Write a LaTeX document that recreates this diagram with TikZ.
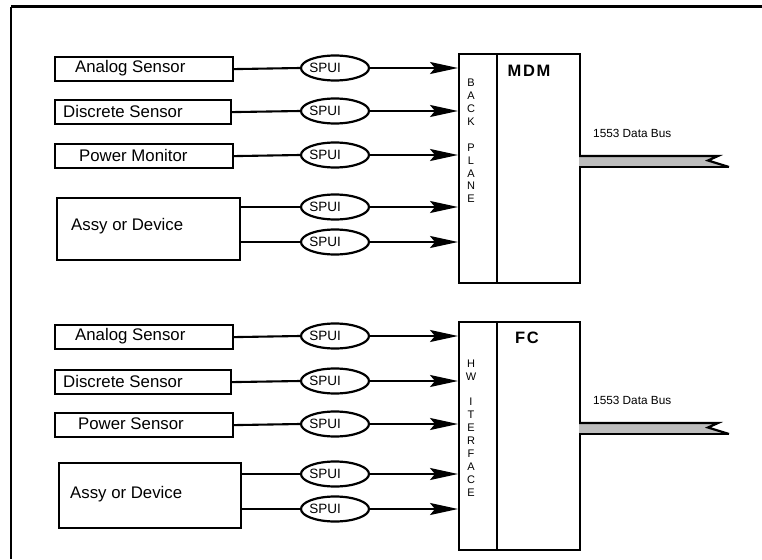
\documentclass[tikz,border=0pt]{standalone}
\usepackage{fontspec}
\setmainfont{Liberation Sans}
\usetikzlibrary{shapes.geometric,arrows.meta}
\tikzset{
  box/.style={draw, line width=2.2pt, inner sep=0pt, anchor=north west},
  lbl/.style={inner sep=0pt, anchor=west, font=\fontsize{16.8pt}{18pt}\selectfont},
  spui/.style={draw, ellipse, line width=2.2pt, inner sep=0pt, minimum width=68pt, minimum height=25pt},
  spuitxt/.style={inner sep=0pt, font=\fontsize{13.5pt}{15pt}\selectfont},
  conn/.style={line width=2.1pt},
  arr/.style={line width=2.1pt, -{Stealth[length=28pt, width=12pt, inset=5pt]}},
  vert/.style={inner sep=0pt, align=center, font=\fontsize{11pt}{12.9pt}\selectfont},
  title/.style={inner sep=0pt, font=\fontsize{16.5pt}{18pt}\selectfont\bfseries\addfontfeatures{LetterSpace=10}},
  bustxt/.style={inner sep=0pt, anchor=west, font=\fontsize{11.8pt}{13pt}\selectfont},
}
\begin{document}
\begin{tikzpicture}[x=1pt, y=-1pt]
\useasboundingbox (0,0) rectangle (762,559);
% frame
\coordinate (fTL) at (11,7);
\coordinate (fTR) at (762,7);
\coordinate (fBL) at (11,559);
\draw[line width=3pt] (fTR) -- (fTL);
\draw[line width=2.2pt] (fTL) -- (fBL);

% ===== top group =====
\node[box, minimum width=83pt, minimum height=229pt] (mdm) at (496,53) {};
\node[box, minimum width=38pt, minimum height=229pt] (bp1) at (458,53) {};
\node[title] (tmdm) at (529,71) {MDM};
\node[vert] (vbp) at (471,141) {B\\A\\C\\K\\[12.9pt]P\\L\\A\\N\\E};

\node[box, minimum width=178pt, minimum height=24pt] (a1) at (54,56) {};
\node[lbl] (ta1) at (75,68) {Analog Sensor};
\node[box, minimum width=176pt, minimum height=24pt] (d1) at (54,99) {};
\node[lbl] (td1) at (63,111) {Discrete Sensor};
\node[box, minimum width=178pt, minimum height=24pt] (p1) at (54,143) {};
\node[lbl] (tp1) at (79,155) {Power Monitor};
\node[box, minimum width=183pt, minimum height=62pt] (s1) at (56,197) {};
\node[lbl] (ts1) at (71,226) {Assy or Device};

\node[spui] (e11) at (335,68) {};
\node[spui] (e12) at (335,111) {};
\node[spui] (e13) at (335,155) {};
\node[spui] (e14) at (335,207) {};
\node[spui] (e15) at (335,242) {};
\foreach \i in {11,12,13,14,15} {\node[spuitxt] (t\i) at ([xshift=-10pt]e\i.center) {SPUI};}

\draw[conn] (a1.east) -- (e11.west);
\draw[conn] (d1.east) -- (e12.west);
\draw[conn] (p1.east) -- (e13.west);
\draw[conn] (s1.east |- e14) -- (e14.west);
\draw[conn] (s1.east |- e15) -- (e15.west);
\foreach \i in {11,12,13,14,15} {\draw[arr] (e\i.east) -- (e\i.east -| bp1.west);}

% bus top
\coordinate (b1a) at (579,156);
\coordinate (b1b) at (718,156);
\coordinate (b1c) at (708,160.5);
\coordinate (b1d) at (729,167);
\coordinate (b1e) at (579,167);
\fill[gray!52] (b1a) -- (b1b) -- (b1c) -- (b1d) -- (b1e) -- cycle;
\draw[line width=2.2pt, line join=miter] (b1a) -- (b1b) -- (b1c) -- (b1d);
\draw[line width=2.2pt] (b1e) -- (b1d);
\node[bustxt] (bus1) at (593,133) {1553 Data Bus};

% ===== bottom group =====
\node[box, minimum width=83pt, minimum height=228pt] (fc) at (496,321) {};
\node[box, minimum width=38pt, minimum height=228pt] (bp2) at (458,321) {};
\node[title] (tfc) at (527,338) {FC};
\node[vert] (vhw) at (471,428) {H\\W\\[12.9pt]I\\T\\E\\R\\F\\A\\C\\E};

\node[box, minimum width=178pt, minimum height=24pt] (a2) at (54,324) {};
\node[lbl] (ta2) at (75,336) {Analog Sensor};
\node[box, minimum width=176pt, minimum height=24pt] (d2) at (54,369) {};
\node[lbl] (td2) at (63,381) {Discrete Sensor};
\node[box, minimum width=178pt, minimum height=24pt] (p2) at (54,412) {};
\node[lbl] (tp2) at (78,424) {Power Sensor};
\node[box, minimum width=182pt, minimum height=65pt] (s2) at (58,462) {};
\node[lbl] (ts2) at (70,494) {Assy or Device};

\node[spui] (e21) at (335,336) {};
\node[spui] (e22) at (335,381) {};
\node[spui] (e23) at (335,424) {};
\node[spui] (e24) at (335,474) {};
\node[spui] (e25) at (335,509) {};
\foreach \i in {21,22,23,24,25} {\node[spuitxt] (t\i) at ([xshift=-10pt]e\i.center) {SPUI};}

\draw[conn] (a2.east) -- (e21.west);
\draw[conn] (d2.east) -- (e22.west);
\draw[conn] (p2.east) -- (e23.west);
\draw[conn] (s2.east |- e24) -- (e24.west);
\draw[conn] (s2.east |- e25) -- (e25.west);
\foreach \i in {21,22,23,24,25} {\draw[arr] (e\i.east) -- (e\i.east -| bp2.west);}

% bus bottom
\coordinate (b2a) at (579,423);
\coordinate (b2b) at (718,423);
\coordinate (b2c) at (708,427.5);
\coordinate (b2d) at (729,434);
\coordinate (b2e) at (579,434);
\fill[gray!52] (b2a) -- (b2b) -- (b2c) -- (b2d) -- (b2e) -- cycle;
\draw[line width=2.2pt, line join=miter] (b2a) -- (b2b) -- (b2c) -- (b2d);
\draw[line width=2.2pt] (b2e) -- (b2d);
\node[bustxt] (bus2) at (593,400) {1553 Data Bus};
\end{tikzpicture}
\end{document}
